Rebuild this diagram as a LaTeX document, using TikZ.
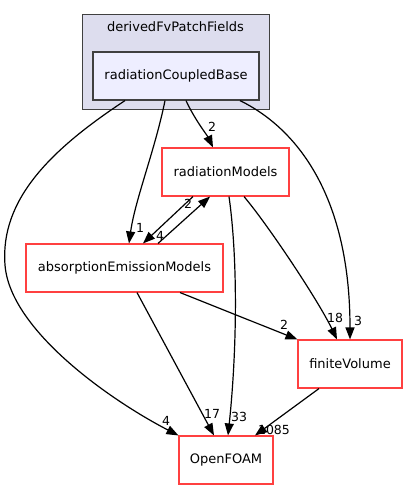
\documentclass[tikz,border=0pt]{standalone}
\usepackage{fontspec}
\setmainfont{DejaVu Sans}
\usetikzlibrary{arrows.meta}
\definecolor{nodered}{RGB}{255,64,64}
\definecolor{clusterfill}{RGB}{221,221,238}
\definecolor{innerfill}{RGB}{238,238,255}
\definecolor{darkedge}{RGB}{64,64,64}
\tikzset{
  pkg/.style={draw=nodered, line width=1.1pt, fill=white, inner sep=0pt, minimum height=48pt, font=\fontsize{13}{15}\selectfont},
  dep/.style={draw=black, line width=1.2pt, -{Triangle[length=12pt,width=9pt]}},
  lbl/.style={inner sep=0pt, font=\fontsize{12.5}{14}\selectfont},
}
\begin{document}
\begin{tikzpicture}[x=1pt,y=-1pt]
\useasboundingbox (0,0) rectangle (407,489);
% cluster
\node[draw=darkedge, fill=clusterfill, line width=1pt, minimum width=187pt, minimum height=95pt, inner sep=0pt] (cluster) at (175.5,62.5) {};
\node[inner sep=0pt, font=\fontsize{13}{15}\selectfont] (clabel) at (175.5,27) {derivedFvPatchFields};
\node[draw=darkedge, fill=innerfill, line width=1.2pt, minimum width=166pt, minimum height=48pt, inner sep=0pt, font=\fontsize{13}{15}\selectfont] (rcb) at (176,76) {radiationCoupledBase};
% packages
\node[pkg, minimum width=127pt] (rm) at (225.5,172) {radiationModels};
\node[pkg, minimum width=197pt] (aem) at (124.5,268) {absorptionEmissionModels};
\node[pkg, minimum width=104pt] (fv) at (350,364) {finiteVolume};
\node[pkg, minimum width=94pt] (of) at (226,460) {OpenFOAM};
% labels
\node[lbl] (l1) at (212,127) {2};
\node[lbl] (l2) at (140,228) {1};
\node[lbl] (l3) at (166,421) {4};
\node[lbl] (l4) at (358,321) {3};
\node[lbl] (l5) at (160,236) {4};
\node[lbl] (l6) at (188,204) {2};
\node[lbl] (l7) at (239,417) {33};
\node[lbl] (l8) at (335,318) {18};
\node[lbl] (l9) at (284,325) {2};
\node[lbl] (l10) at (212,414) {17};
\node[lbl] (l11) at (274,430) {1085};
% edges
\draw[dep] ([xshift=10pt]rcb.south) .. controls (195,120) and (207,135) .. ([xshift=-12.5pt]rm.north);
\draw[dep] ([xshift=-11pt]rcb.south) .. controls (155,150) and (135,200) .. ([xshift=4.5pt]aem.north);
\draw[dep] ([xshift=-51pt]rcb.south) .. controls (50,150) and (0,200) .. (5,265) .. controls (10,330) and (110,400) .. (of.north west);
\draw[dep] ([xshift=64pt]rcb.south) .. controls (300,130) and (350,200) .. (fv.north);
\draw[dep] ([xshift=-32.5pt]rm.south) -- ([xshift=18.5pt]aem.north);
\draw[dep] ([xshift=33.5pt]aem.north) -- ([xshift=-15.5pt]rm.south);
\draw[dep] ([xshift=3.5pt]rm.south) .. controls (238,260) and (237,350) .. ([xshift=2pt]of.north);
\draw[dep] ([xshift=18.5pt]rm.south) .. controls (268,225) and (318,300) .. ([xshift=-13pt]fv.north);
\draw[dep] ([xshift=55.5pt]aem.south) -- (fv.north west);
\draw[dep] ([xshift=12.5pt]aem.south) -- ([xshift=-12pt]of.north);
\draw[dep] ([xshift=-31pt]fv.south) -- ([xshift=29pt]of.north);
\end{tikzpicture}
\end{document}
